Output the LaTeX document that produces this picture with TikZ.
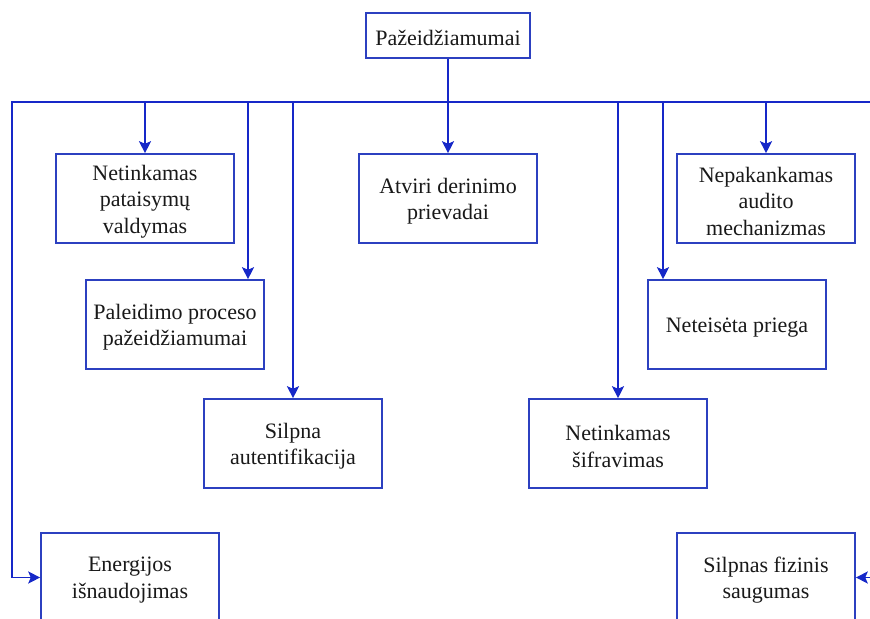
\documentclass[tikz,border=0pt]{standalone}
\usepackage{fontspec}
\setmainfont{Liberation Serif}
\usetikzlibrary{arrows.meta}
\definecolor{linkblue}{RGB}{22,40,200}
\definecolor{boxblue}{RGB}{44,64,192}
\definecolor{ink}{RGB}{25,25,25}
\tikzset{
  item/.style={draw=boxblue, line width=0.8pt, fill=white, rectangle,
    minimum width=89pt, minimum height=44.5pt, inner sep=0pt},
  rootbox/.style={item, minimum width=82pt, minimum height=22.5pt},
  txt/.style={inner sep=0pt, align=center, text=ink, yshift=-1.4pt,
    font=\fontsize{11pt}{13.25pt}\selectfont},
  link/.style={draw=linkblue, line width=0.9pt},
  tip/.tip={Stealth[length=6pt, width=6pt, inset=1.3pt]},
  arr/.style={link, -tip},
  darr/.style={link, tip-tip}
}
\begin{document}
\begin{tikzpicture}[x=0.5pt, y=-0.5pt]
\useasboundingbox (0,0) rectangle (870,619);
\clip (0,0) rectangle (870,619);

% boxes, each with its caption set as a centred label
\node[rootbox, label={[txt, name=rootT, yshift=0.4pt]center:Pažeidžiamumai}] (root) at (448,35.5) {};
\node[item, label={[txt, name=patchT]center:{Netinkamas\\pataisymų\\valdymas}}] (patch) at (145,198.5) {};
\node[item, label={[txt, name=bootT]center:{Paleidimo proceso\\pažeidžiamumai}}] (boot) at (175,324.5) {};
\node[item, label={[txt, name=debugT]center:{Atviri derinimo\\prievadai}}] (debug) at (448,198.5) {};
\node[item, label={[txt, name=auditT]center:{Nepakankamas\\audito\\mechanizmas}}] (audit) at (766,198.5) {};
\node[item, label={[txt, name=accessT]center:{Neteisėta priega}}] (access) at (737,324.5) {};
\node[item, label={[txt, name=authT]center:{Silpna\\autentifikacija}}] (auth) at (293,443.5) {};
\node[item, label={[txt, name=cryptT]center:{Netinkamas\\šifravimas}}] (crypt) at (618,443.5) {};
\node[item, label={[txt, name=energyT]center:{Energijos\\išnaudojimas}}] (energy) at (130,577.5) {};
\node[item, label={[txt, name=physT]center:{Silpnas fizinis\\saugumas}}] (phys) at (766,577.5) {};

% distribution bus
\coordinate (busL) at (12,102);
\coordinate (busR) at (884,102);
\coordinate (bootIn) at ([xshift=36.5pt]boot.north);
\coordinate (accessIn) at ([xshift=-37pt]access.north);

\draw[darr] (energy.west) -| (busL) -- (busR) |- (phys.east);
\draw[arr] (root.south) -- (debug.north);
\draw[arr] (patch.north |- busL) -- (patch.north);
\draw[arr] (bootIn |- busL) -- (bootIn);
\draw[arr] (auth.north |- busL) -- (auth.north);
\draw[arr] (crypt.north |- busL) -- (crypt.north);
\draw[arr] (accessIn |- busL) -- (accessIn);
\draw[arr] (audit.north |- busL) -- (audit.north);
\end{tikzpicture}
\end{document}
